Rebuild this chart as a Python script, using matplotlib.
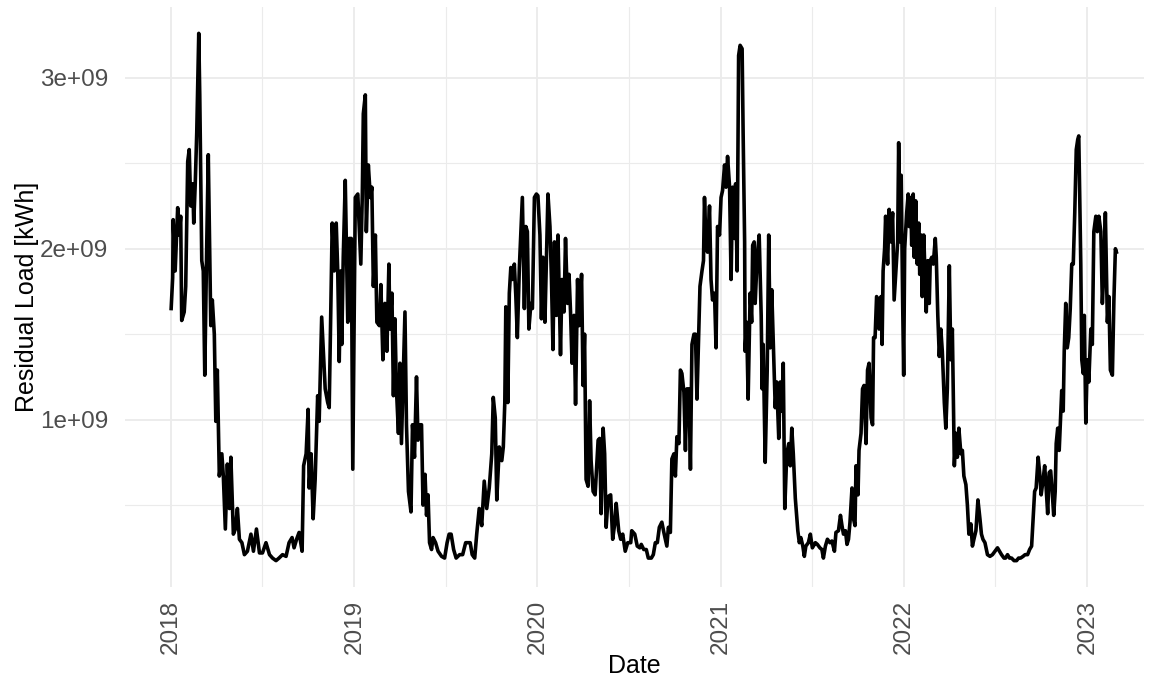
import numpy as np
import pandas as pd
import matplotlib
matplotlib.use("Agg")
import matplotlib.pyplot as plt
import matplotlib.dates as mdates
from matplotlib.ticker import FixedLocator, FuncFormatter

plt.rcParams['font.family'] = ['Liberation Sans', 'DejaVu Sans']

# residual load, in 1e9 kWh, day offsets from Jan 1 of each year
days_2018 = [0, 3, 4, 8, 13, 16, 19, 21, 26, 29, 33, 36, 39, 43, 45, 48, 51, 55, 57, 61,
             64, 67, 71, 74, 77, 79, 82, 86, 89, 92, 96, 101, 104, 108, 112, 116, 119, 124, 128, 132,
             136, 141, 146, 152, 159, 164, 170, 176, 182, 189, 196, 202, 209, 215, 222, 229, 235, 241, 245, 250,
             255, 261, 264, 269, 273, 275, 279, 283, 287, 292, 295, 300, 303, 307, 312, 315, 321, 325, 329, 332,
             335, 338, 340, 343, 347, 352, 355, 359, 362]
load_2018 = [1.65, 1.83, 2.17, 1.87, 2.24, 2.08, 2.19, 1.58, 1.63, 1.78, 2.51, 2.58, 2.25, 2.38, 2.15, 2.38, 2.68, 3.26, 2.90, 1.93,
             1.87, 1.26, 2.04, 2.55, 1.93, 1.55, 1.70, 1.50, 0.99, 1.29, 0.67, 0.80, 0.67, 0.36, 0.74, 0.48, 0.78, 0.33, 0.36, 0.48,
             0.30, 0.28, 0.21, 0.23, 0.33, 0.23, 0.36, 0.22, 0.22, 0.28, 0.21, 0.19, 0.175, 0.19, 0.21, 0.20, 0.28, 0.31, 0.25, 0.30,
             0.34, 0.23, 0.73, 0.80, 1.06, 0.60, 0.80, 0.42, 0.65, 1.14, 0.99, 1.60, 1.42, 1.18, 1.10, 1.07, 2.15, 1.87, 2.15, 1.87,
             1.34, 1.87, 1.44, 1.95, 2.40, 1.57, 2.06, 2.06, 0.71]

days_2019 = [2, 7, 11, 13, 16, 18, 22, 24, 28, 32, 35, 38, 42, 45, 50, 53, 57, 61, 65, 69,
             71, 75, 78, 81, 84, 88, 91, 94, 98, 101, 104, 108, 113, 116, 120, 124, 127, 131, 134, 137,
             141, 144, 147, 150, 154, 157, 162, 167, 174, 180, 185, 189, 193, 198, 203, 210, 216, 222, 226, 231,
             235, 240, 244, 249, 254, 259, 264, 269, 274, 277, 281, 284, 289, 294, 297, 300, 302, 306, 309, 312,
             315, 319, 322, 325, 329, 332, 335, 339, 342, 345, 348, 352, 355, 359, 363]
load_2019 = [2.30, 2.32, 2.04, 1.91, 2.32, 2.79, 2.90, 2.10, 2.49, 2.30, 2.36, 1.78, 2.08, 1.57, 1.55, 1.79, 1.35, 1.68, 1.40, 1.91,
             1.53, 1.74, 1.14, 1.59, 1.18, 0.92, 1.33, 0.86, 1.29, 1.63, 0.97, 0.58, 0.46, 0.97, 0.78, 1.25, 0.88, 0.97, 0.97, 0.50,
             0.68, 0.44, 0.56, 0.28, 0.24, 0.31, 0.28, 0.23, 0.20, 0.19, 0.28, 0.33, 0.33, 0.24, 0.19, 0.21, 0.21, 0.28, 0.28, 0.28,
             0.21, 0.19, 0.33, 0.48, 0.38, 0.64, 0.48, 0.60, 0.80, 1.13, 1.01, 0.53, 0.84, 0.76, 0.84, 1.10, 1.66, 1.10, 1.74, 1.89,
             1.82, 1.91, 1.72, 1.48, 1.89, 2.10, 2.30, 1.65, 2.13, 2.10, 1.53, 1.68, 1.65, 2.30, 2.32]

days_2020 = [1, 5, 8, 11, 15, 18, 21, 25, 28, 31, 34, 38, 41, 46, 49, 53, 56, 60, 63, 66,
             69, 73, 76, 80, 83, 88, 91, 94, 97, 101, 104, 107, 111, 115, 121, 124, 127, 131, 134, 137,
             141, 146, 150, 154, 157, 162, 166, 170, 175, 180, 186, 188, 194, 199, 204, 207, 212, 217, 221, 227,
             231, 235, 239, 243, 248, 252, 255, 258, 261, 265, 268, 272, 275, 278, 282, 285, 288, 292, 295, 298,
             302, 305, 308, 312, 315, 318, 322, 324, 328, 331, 333, 336, 339, 343, 346, 349, 353, 356, 359, 363]
load_2020 = [2.31, 2.08, 1.59, 1.95, 1.57, 1.95, 2.32, 2.13, 1.82, 1.41, 2.04, 1.61, 2.08, 1.38, 1.82, 1.63, 2.06, 1.68, 1.85, 1.63,
             1.33, 1.61, 1.09, 1.82, 1.55, 1.85, 1.20, 1.50, 0.65, 0.61, 1.11, 0.76, 0.58, 0.56, 0.88, 0.89, 0.45, 0.95, 0.80, 0.37,
             0.55, 0.56, 0.30, 0.39, 0.51, 0.35, 0.30, 0.33, 0.23, 0.28, 0.28, 0.35, 0.33, 0.26, 0.25, 0.27, 0.24, 0.24, 0.19, 0.19,
             0.21, 0.28, 0.28, 0.37, 0.40, 0.34, 0.30, 0.26, 0.37, 0.34, 0.77, 0.80, 0.67, 0.90, 0.86, 1.29, 1.27, 1.16, 0.82, 1.18,
             1.18, 0.71, 1.44, 1.50, 1.50, 1.12, 1.55, 1.78, 1.87, 1.93, 2.30, 2.04, 1.98, 2.25, 1.82, 1.70, 1.74, 1.42, 2.13, 2.08]

days_2021 = [0, 3, 7, 10, 13, 17, 20, 23, 27, 29, 32, 35, 38, 42, 44, 47, 48, 51, 54, 58,
             61, 63, 66, 68, 72, 76, 80, 82, 84, 88, 92, 95, 98, 101, 104, 108, 111, 115, 118, 121,
             124, 127, 131, 135, 138, 141, 144, 148, 153, 156, 159, 163, 166, 169, 174, 178, 182, 188, 192, 197,
             201, 204, 208, 212, 217, 221, 226, 229, 234, 238, 241, 244, 248, 251, 254, 257, 261, 264, 267, 269,
             273, 275, 279, 282, 285, 289, 292, 295, 299, 302, 304, 307, 310, 313, 315, 319, 321, 323, 326, 328,
             332, 335, 338, 342, 345, 348, 352, 354, 357, 359, 362, 364]
load_2021 = [2.30, 2.34, 2.49, 2.36, 2.54, 2.36, 1.82, 2.36, 2.06, 2.38, 1.87, 3.13, 3.19, 3.17, 2.68, 2.04, 1.40, 1.57, 1.12, 1.74,
             1.57, 2.02, 2.04, 1.68, 1.95, 2.08, 1.61, 1.18, 1.44, 0.75, 1.29, 2.08, 1.42, 1.76, 1.46, 1.07, 1.22, 0.89, 1.22, 1.05,
             1.33, 0.48, 0.80, 0.86, 0.73, 0.95, 0.80, 0.54, 0.35, 0.28, 0.31, 0.26, 0.20, 0.26, 0.28, 0.33, 0.25, 0.28, 0.27, 0.25,
             0.24, 0.19, 0.26, 0.30, 0.28, 0.29, 0.23, 0.34, 0.35, 0.44, 0.38, 0.33, 0.35, 0.27, 0.30, 0.40, 0.60, 0.42, 0.38, 0.73,
             0.56, 0.82, 0.92, 1.18, 1.20, 0.86, 1.29, 1.33, 1.01, 0.97, 1.48, 1.48, 1.72, 1.70, 1.53, 1.72, 1.44, 1.87, 2.00, 2.19,
             1.91, 2.23, 2.04, 2.21, 1.70, 1.85, 2.04, 2.62, 2.04, 2.43, 1.68, 1.26]

days_2022 = [1, 5, 8, 10, 13, 15, 18, 20, 23, 26, 29, 31, 34, 36, 39, 42, 44, 47, 50, 52,
             55, 58, 62, 64, 67, 70, 73, 76, 80, 83, 86, 90, 93, 96, 100, 103, 106, 109, 113, 116,
             119, 123, 126, 129, 133, 136, 139, 143, 147, 151, 154, 157, 161, 166, 171, 176, 181, 186, 190, 194,
             199, 202, 206, 210, 214, 219, 224, 228, 232, 237, 241, 246, 250, 254, 257, 260, 263, 267, 270, 273,
             277, 280, 283, 286, 289, 292, 295, 298, 301, 303, 306, 309, 312, 314, 317, 319, 322, 325, 328, 331,
             334, 337, 340, 343, 346, 348, 352, 354, 357, 359, 362]
load_2022 = [2.00, 2.21, 2.32, 2.13, 2.30, 2.02, 2.32, 1.95, 2.28, 1.91, 2.15, 1.85, 2.08, 1.72, 2.08, 1.82, 1.63, 1.93, 1.68, 1.93,
             1.95, 1.91, 2.06, 1.95, 1.61, 1.37, 1.53, 1.40, 1.10, 0.95, 1.18, 1.90, 1.35, 1.53, 0.73, 0.92, 0.78, 0.95, 0.80, 0.82,
             0.67, 0.62, 0.50, 0.33, 0.39, 0.26, 0.30, 0.35, 0.53, 0.42, 0.33, 0.30, 0.28, 0.21, 0.20, 0.21, 0.23, 0.25, 0.23, 0.21,
             0.19, 0.19, 0.21, 0.19, 0.19, 0.175, 0.175, 0.19, 0.19, 0.20, 0.21, 0.21, 0.24, 0.26, 0.42, 0.58, 0.60, 0.78, 0.69, 0.56,
             0.65, 0.73, 0.60, 0.45, 0.69, 0.70, 0.58, 0.44, 0.58, 0.86, 0.95, 0.82, 1.03, 1.17, 1.05, 1.40, 1.68, 1.42, 1.48, 1.65,
             1.91, 1.91, 2.21, 2.58, 2.64, 2.66, 1.91, 1.35, 1.27, 1.61, 0.98]

days_2023 = [0, 3, 7, 10, 13, 17, 20, 23, 27, 30, 33, 36, 40, 43, 46, 50, 53, 56, 58]
load_2023 = [1.35, 1.22, 1.53, 1.44, 2.10, 2.19, 2.10, 2.19, 2.10, 1.68, 1.87, 2.21, 1.57, 1.72, 1.29, 1.26, 1.70, 2.00, 1.98]

years = [2018, 2019, 2020, 2021, 2022, 2023]
year_days = [days_2018, days_2019, days_2020, days_2021, days_2022, days_2023]
year_loads = [load_2018, load_2019, load_2020, load_2021, load_2022, load_2023]

frames = []
for yr, d, v in zip(years, year_days, year_loads):
    frames.append(pd.DataFrame({
        "Date": pd.Timestamp(f"{yr}-01-01") + pd.to_timedelta(d, unit="D"),
        "Load": np.array(v) * 1e9,
    }))
df = pd.concat(frames, ignore_index=True)

grid_col = "#EBEBEB"
text_col = "#4D4D4D"

fig = plt.figure(figsize=(11.5, 6.8), dpi=100)
ax = fig.add_axes([125 / 1150, 93 / 680, 1019 / 1150, 580 / 680])

ax.plot(df["Date"], df["Load"], color="black", linewidth=2.6, solid_joinstyle="round")

# x range like ggplot's expansion, slightly wider on the right
ax.set_xlim(pd.Timestamp("2018-01-01") - pd.Timedelta(days=92),
            pd.Timestamp("2023-01-01") + pd.Timedelta(days=113))
lo, hi = df["Load"].min(), df["Load"].max()
pad = 0.05 * (hi - lo)
ax.set_ylim(lo - pad, hi + pad)

major_x = [pd.Timestamp(f"{y}-01-01") for y in years]
minor_x = [pd.Timestamp(f"{y}-07-02") for y in years[:-1]]
ax.xaxis.set_major_locator(FixedLocator(mdates.date2num(major_x)))
ax.xaxis.set_minor_locator(FixedLocator(mdates.date2num(minor_x)))
ax.xaxis.set_major_formatter(mdates.DateFormatter("%Y"))

ax.yaxis.set_major_locator(FixedLocator([1e9, 2e9, 3e9]))
ax.yaxis.set_minor_locator(FixedLocator([0.5e9, 1.5e9, 2.5e9]))
ax.yaxis.set_major_formatter(FuncFormatter(lambda v, p: f"{int(round(v / 1e9))}e+09"))

ax.grid(which="major", color=grid_col, linewidth=1.3)
ax.grid(which="minor", color=grid_col, linewidth=0.8)
ax.set_axisbelow(True)
for s in ax.spines.values():
    s.set_visible(False)

ax.tick_params(which="both", length=0)
ax.tick_params(axis="y", labelsize=17.5, labelcolor=text_col, pad=12)
ax.tick_params(axis="x", labelsize=17.5, labelcolor=text_col, pad=9, labelrotation=90)

ax.set_xlabel("Date", fontsize=18, color="black", labelpad=0)
ax.set_ylabel("Residual Load [kWh]", fontsize=18, color="black", labelpad=1)

fig.savefig("out.png", dpi=100, facecolor="white")
